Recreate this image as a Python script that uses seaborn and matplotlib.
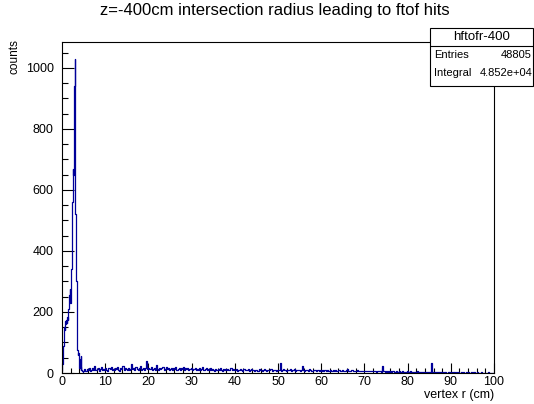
import numpy as np
import pandas as pd
import matplotlib
matplotlib.use('Agg')
import matplotlib.pyplot as plt
import seaborn as sns

# histogram contents
# fine bins (0.1 cm) over the peak region 0-5 cm
peak_counts = [5, 30, 60, 90, 120, 150, 165, 140, 170, 160,
               175, 165, 185, 175, 195, 210, 240, 255, 275, 230,
               290, 340, 380, 360, 560, 670, 650, 860, 940, 990,
               1030, 520, 500, 300, 290, 75, 70, 60, 65, 30,
               15, 45, 20, 10, 55, 10, 5, 8, 3, 6]

# coarser bins (0.25 cm) over the tail 5-100 cm, one row per 5 cm
tail_counts = [
    12, 6, 8, 14, 9, 18, 7, 11, 16, 10, 22, 9, 13, 17, 8, 12, 19, 10, 14, 9,
    15, 11, 8, 18, 12, 21, 10, 14, 9, 16, 13, 20, 11, 8, 17, 12, 24, 10, 15, 13,
    11, 18, 9, 14, 30, 12, 16, 10, 19, 13, 9, 15, 22, 11, 14, 18, 10, 17, 38, 12,
    16, 13, 20, 10, 14, 18, 11, 25, 13, 9, 17, 12, 15, 21, 10, 14, 19, 12, 16, 11,
    13, 18, 10, 15, 12, 20, 11, 14, 17, 9, 16, 13, 19, 10, 15, 12, 18, 11, 14, 16,
    10, 14, 12, 17, 9, 13, 11, 16, 10, 14, 20, 9, 12, 15, 10, 13, 11, 16, 9, 12,
    11, 8, 14, 10, 13, 9, 15, 11, 8, 12, 10, 14, 9, 13, 11, 10, 16, 9, 12, 10,
    9, 12, 8, 11, 10, 13, 9, 8, 12, 10, 11, 9, 14, 8, 10, 12, 9, 11, 8, 10,
    10, 8, 12, 9, 11, 8, 10, 13, 9, 8, 11, 10, 9, 12, 8, 10, 9, 11, 8, 10,
    9, 11, 34, 8, 10, 12, 9, 8, 11, 10, 9, 13, 8, 10, 9, 12, 8, 11, 9, 10,
    8, 10, 24, 9, 8, 11, 9, 10, 8, 12, 9, 8, 10, 9, 11, 8, 9, 10, 8, 9,
    8, 9, 7, 10, 8, 9, 7, 8, 11, 8, 7, 9, 8, 10, 7, 8, 9, 7, 8, 9,
    7, 8, 6, 9, 12, 7, 8, 6, 9, 7, 8, 6, 7, 9, 6, 8, 7, 6, 8, 7,
    6, 7, 5, 8, 6, 5, 7, 6, 5, 8, 6, 4, 7, 5, 6, 4, 22, 5, 6, 4,
    5, 4, 6, 3, 5, 4, 6, 3, 4, 5, 3, 4, 6, 3, 4, 5, 3, 4, 3, 5,
    4, 3, 5, 2, 4, 3, 4, 2, 3, 5, 2, 4, 3, 2, 4, 3, 2, 4, 3, 2,
    3, 2, 34, 3, 2, 3, 2, 4, 2, 3, 2, 3, 2, 1, 3, 2, 1, 3, 2, 1,
    2, 1, 3, 2, 1, 2, 1, 3, 1, 2, 1, 2, 1, 1, 2, 1, 2, 1, 1, 2,
    1, 2, 1, 1, 2, 1, 0, 1, 2, 1, 1, 0, 1, 1, 2, 1, 0, 1, 1, 0,
]

title = 'z=-400cm intersection radius leading to ftof hits'
hist_name = 'hftofr-400'
entries = '48805'
integral = '4.852e+04'

# bin edges and centres
edges = np.concatenate([np.linspace(0, 5, len(peak_counts) + 1),
                        np.linspace(5, 100, len(tail_counts) + 1)[1:]])
centers = 0.5 * (edges[:-1] + edges[1:])
df = pd.DataFrame({'r': centers, 'counts': peak_counts + tail_counts})

sns.set_style('ticks')
plt.rcParams['font.family'] = ['Liberation Sans', 'DejaVu Sans']
plt.rcParams['text.color'] = 'black'
plt.rcParams['xtick.color'] = 'black'
plt.rcParams['ytick.color'] = 'black'

fig = plt.figure(figsize=(5.34, 4.04), dpi=100)
ax = fig.add_axes([62 / 534, 1 - 373 / 404, (494 - 62) / 534, (373 - 42) / 404])

sns.histplot(data=df, x='r', weights='counts', bins=list(edges), element='step',
             fill=False, color='#000099', linewidth=0.9, ax=ax)

ax.set_xlim(0, 100)
ax.set_ylim(0, 1085)
ax.set_xticks(np.arange(0, 101, 10))
ax.set_xticks(np.arange(0, 101, 2), minor=True)
ax.set_yticks(np.arange(0, 1001, 200))
ax.set_yticks(np.arange(0, 1051, 50), minor=True)
ax.tick_params(axis='both', which='both', direction='in', labelsize=9,
               width=0.8, color='black', labelcolor='black')
ax.tick_params(axis='y', which='major', length=8.5, pad=6)
ax.tick_params(axis='y', which='minor', length=4.3)
ax.tick_params(axis='x', which='major', length=7.5, pad=2)
ax.tick_params(axis='x', which='minor', length=3.8)
for s in ax.spines.values():
    s.set_visible(True)
    s.set_linewidth(0.8)
    s.set_color('black')
ax.set_xlabel('')
ax.set_ylabel('')

fig.text(275 / 534, 1 - 11 / 404, title, ha='center', va='center', fontsize=12)
fig.text(494 / 534, 1 - 395 / 404, 'vertex r (cm)', ha='right', va='center', fontsize=9)
fig.text(15 / 534, 1 - 39 / 404, 'counts', ha='center', va='top', rotation=90, fontsize=8.5)

# stats box in ROOT style
bx0, bx1 = 430 / 534, 533 / 534
by_top, by_div, by_bot = 1 - 28 / 404, 1 - 46 / 404, 1 - 86 / 404
box = plt.Rectangle((bx0, by_bot), bx1 - bx0, by_top - by_bot, transform=fig.transFigure,
                    facecolor='white', edgecolor='black', linewidth=0.8, zorder=5)
fig.add_artist(box)
fig.add_artist(plt.Line2D([bx0, bx1], [by_div, by_div], transform=fig.transFigure,
                          color='black', linewidth=0.8, zorder=6))
fig.text((bx0 + bx1) / 2, 1 - 37 / 404, hist_name, ha='center', va='center', fontsize=9.5, zorder=7)
fig.text(bx0 + 4 / 534, 1 - 55 / 404, 'Entries', ha='left', va='center', fontsize=8, zorder=7)
fig.text(bx1 - 1 / 534, 1 - 55 / 404, entries, ha='right', va='center', fontsize=8, zorder=7)
fig.text(bx0 + 4 / 534, 1 - 73 / 404, 'Integral', ha='left', va='center', fontsize=8, zorder=7)
fig.text(bx1 - 1 / 534, 1 - 73 / 404, integral, ha='right', va='center', fontsize=8, zorder=7)

fig.savefig('out.png', dpi=100)
